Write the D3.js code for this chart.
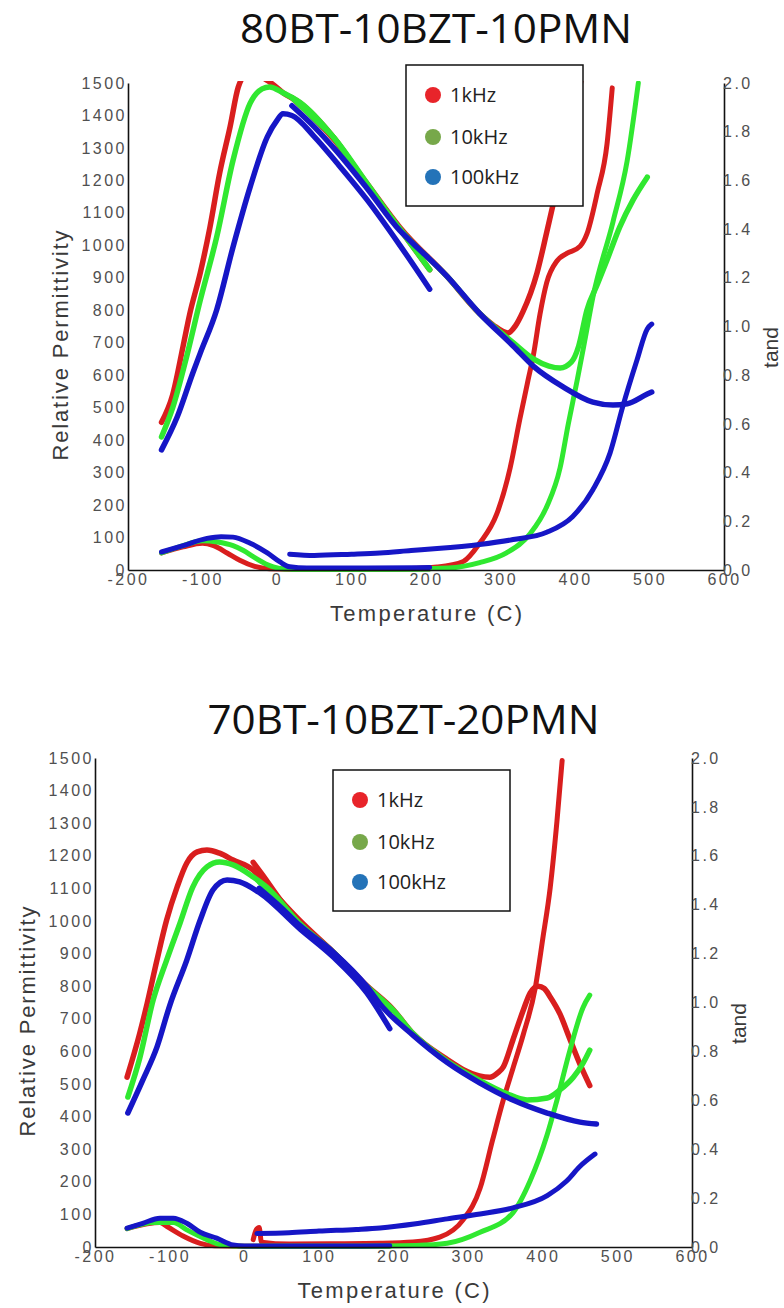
<!DOCTYPE html>
<html lang="en">
<head>
<meta charset="UTF-8">
<title>Permittivity and tand vs temperature</title>
<script src="https://d3js.org/d3.v7.min.js"></script>
<style>
  body { margin: 0; background: #fff; }
  svg { display: block; }
</style>
</head>
<body>
<script>
// ---- data: [temperature (C), value] ----
// 80BT-10BZT-10PMN, low-temperature run (a) and high-temperature run (b)
const top_eps_1k_a = [[-155,455],[-140,540],[-126,690],[-117,790],[-103,915],[-90,1056],[-77,1222],[-63,1365],[-52,1487],[-44,1520],[-25,1520],[-8,1500],[8,1470],[30,1440],[75,1335],[121,1185],[165,1050],[205,925]];
const top_eps_1k_b = [[20,1455],[50,1390],[75,1330],[121,1190],[165,1055],[228,905],[272,790],[290,755],[310,730],[320,752],[330,795],[349,915],[362,1040],[371,1130],[385,1260],[400,1420],[410,1530]];
const top_eps_10k_a = [[-155,410],[-140,500],[-121,660],[-103,831],[-81,1025],[-59,1262],[-36,1438],[-20,1482],[-10,1488],[8,1470],[31,1440],[75,1335],[121,1185],[165,1050],[205,925]];
const top_eps_10k_b = [[20,1455],[50,1390],[75,1335],[121,1190],[165,1050],[228,905],[272,790],[317,700],[344,650],[365,628],[380,622],[395,640],[405,690],[416,800],[430,880],[443,955],[460,1056],[478,1140],[497,1210]];
const top_eps_100k_a = [[-155,370],[-134,471],[-113,607],[-103,668],[-81,801],[-59,995],[-36,1180],[-13,1334],[0,1385],[8,1405],[20,1400],[50,1335],[80,1255],[121,1140],[165,1000],[205,865]];
const top_eps_100k_b = [[20,1430],[50,1365],[80,1290],[121,1175],[165,1045],[183,1005],[228,905],[272,790],[317,690],[344,628],[384,564],[424,517],[451,508],[470,512],[497,542],[503,548]];
const top_tan_1k_a = [[-155,0.07],[-126,0.095],[-100,0.11],[-85,0.1],[-67,0.07],[-50,0.04],[-30,0.015],[-10,0.005],[20,0.003],[100,0.003],[205,0.005]];
const top_tan_1k_b = [[20,0.005],[100,0.004],[180,0.006],[215,0.012],[250,0.035],[272,0.11],[295,0.23],[313,0.42],[326,0.62],[337,0.78],[344,0.88],[353,1.05],[362,1.18],[376,1.27],[389,1.30],[407,1.33],[416,1.38],[430,1.55],[443,1.75],[450,1.98]];
const top_tan_10k_a = [[-155,0.07],[-126,0.1],[-100,0.12],[-80,0.115],[-59,0.10],[-45,0.08],[-32,0.055],[-15,0.025],[-5,0.013],[10,0.004],[100,0.003],[205,0.004]];
const top_tan_10k_b = [[20,0.003],[150,0.003],[230,0.008],[272,0.03],[308,0.07],[340,0.15],[362,0.26],[380,0.42],[391,0.60],[403,0.78],[413,0.94],[424,1.12],[451,1.43],[470,1.68],[485,2.0]];
const top_tan_100k_a = [[-155,0.074],[-126,0.10],[-94,0.13],[-75,0.137],[-59,0.135],[-36,0.11],[-13,0.07],[4,0.033],[17,0.013],[40,0.008],[120,0.008],[205,0.01]];
const top_tan_100k_b = [[17,0.065],[50,0.06],[100,0.065],[138,0.07],[180,0.08],[215,0.088],[272,0.105],[317,0.125],[362,0.155],[397,0.22],[424,0.33],[447,0.48],[464,0.67],[483,0.86],[497,0.99],[503,1.01]];

// 70BT-10BZT-20PMN
const bot_eps_1k_a = [[-157,521],[-140,656],[-130,748],[-117,880],[-104,1003],[-90,1104],[-77,1178],[-63,1212],[-50,1218],[-33,1208],[-15,1187],[12,1156],[30,1110],[75,1000],[119,905],[164,800],[195,735]];
const bot_eps_1k_b = [[12,1180],[25,1140],[50,1060],[75,995],[119,905],[164,802],[199,730],[226,655],[272,575],[293,545],[315,525],[329,521],[340,535],[347,552],[360,635],[374,727],[383,779],[394,800],[402,793],[410,767],[423,715],[436,640],[450,560],[463,495]];
const bot_eps_10k_a = [[-156,460],[-140,580],[-122,758],[-104,880],[-86,994],[-69,1104],[-50,1166],[-33,1181],[-15,1172],[12,1135],[30,1104],[75,990],[119,900],[164,795],[195,720]];
const bot_eps_10k_b = [[20,1120],[50,1050],[75,990],[119,905],[164,800],[199,728],[226,655],[272,570],[316,510],[350,472],[379,451],[406,457],[423,482],[441,521],[454,564],[463,604]];
const bot_eps_100k_a = [[-156,411],[-136,512],[-117,613],[-100,740],[-77,880],[-59,1003],[-42,1095],[-23,1126],[-6,1120],[21,1086],[75,975],[119,890],[164,780],[195,670]];
const bot_eps_100k_b = [[20,1100],[50,1040],[75,985],[119,905],[164,800],[182,745],[226,650],[272,566],[316,503],[360,451],[406,411],[450,383],[472,377]];
const bot_tan_1k_a = [[-157,0.075],[-130,0.095],[-113,0.1],[-104,0.085],[-82,0.045],[-59,0.015],[-40,0.005],[0,0.003],[100,0.003],[195,0.004]];
const bot_tan_1k_b = [[12,0.03],[16,0.07],[20,0.08],[23,0.02],[60,0.012],[120,0.013],[182,0.015],[226,0.02],[262,0.04],[293,0.11],[316,0.24],[333,0.44],[347,0.60],[360,0.73],[374,0.87],[390,1.06],[400,1.26],[410,1.47],[419,1.74],[426,1.99]];
const bot_tan_10k_a = [[-157,0.075],[-120,0.1],[-95,0.1],[-77,0.07],[-50,0.03],[-30,0.008],[0,0.003],[100,0.003],[195,0.003]];
const bot_tan_10k_b = [[20,0.003],[150,0.003],[230,0.006],[272,0.015],[316,0.06],[360,0.14],[383,0.27],[406,0.46],[419,0.60],[436,0.80],[454,0.98],[463,1.03]];
const bot_tan_100k_a = [[-157,0.077],[-136,0.097],[-113,0.118],[-95,0.118],[-77,0.097],[-59,0.06],[-37,0.036],[-15,0.008],[0,0.004],[100,0.004],[195,0.005]];
const bot_tan_100k_b = [[17,0.055],[60,0.058],[100,0.065],[150,0.072],[182,0.078],[230,0.095],[272,0.115],[316,0.135],[360,0.16],[406,0.21],[432,0.27],[450,0.33],[470,0.38]];

const freqs = ['1kHz', '10kHz', '100kHz'];
const xTicks = [-200, -100, 0, 100, 200, 300, 400, 500, 600];
const epsTicks = d3.range(0, 1501, 100);
const tanTicks = [0, 0.2, 0.4, 0.6, 0.8, 1.0, 1.2, 1.4, 1.6, 1.8, 2.0];

const lineColors = ['#d91e1e', '#30e830', '#1616c6'];
const legendColors = ['#e8242a', '#77a84a', '#2473b8'];

const charts = [
  {
    title: '80BT-10BZT-10PMN', titleY: 43,
    x0: 128, x1: 724, yTop: 83, yBot: 570,
    legendX: 406, legendY: 65,
    eps: [[top_eps_1k_a, top_eps_1k_b], [top_eps_10k_a, top_eps_10k_b], [top_eps_100k_a, top_eps_100k_b]],
    tan: [[top_tan_1k_a, top_tan_1k_b], [top_tan_10k_a, top_tan_10k_b], [top_tan_100k_a, top_tan_100k_b]]
  },
  {
    title: '70BT-10BZT-20PMN', titleY: 734,
    x0: 95, x1: 692, yTop: 758, yBot: 1247,
    legendX: 333, legendY: 770,
    eps: [[bot_eps_1k_a, bot_eps_1k_b], [bot_eps_10k_a, bot_eps_10k_b], [bot_eps_100k_a, bot_eps_100k_b]],
    tan: [[bot_tan_1k_a, bot_tan_1k_b], [bot_tan_10k_a, bot_tan_10k_b], [bot_tan_100k_a, bot_tan_100k_b]]
  }
];

const svg = d3.select('body').append('svg').attr('width', 784).attr('height', 1308);
const tickFont = '"Liberation Sans", Arial, sans-serif';

charts.forEach((c, ci) => {
  const g = svg.append('g');
  const x = d3.scaleLinear().domain([-200, 600]).range([c.x0, c.x1]);
  const yL = d3.scaleLinear().domain([0, 1500]).range([c.yBot, c.yTop]);
  const yR = d3.scaleLinear().domain([0, 2]).range([c.yBot, c.yTop]);

  // title
  g.append('text')
    .attr('x', (c.x0 + c.x1) / 2 + 10).attr('y', c.titleY)
    .attr('text-anchor', 'middle')
    .attr('textLength', 392).attr('lengthAdjust', 'spacingAndGlyphs')
    .style('font-family', '"Open Sans", sans-serif').style('font-size', '40px')
    .style('fill', '#111')
    .text(c.title);

  // curves
  const clipId = 'clip' + ci;
  g.append('clipPath').attr('id', clipId).append('rect')
    .attr('x', c.x0).attr('y', c.yTop - 2)
    .attr('width', c.x1 - c.x0).attr('height', c.yBot - c.yTop + 4);
  const plot = g.append('g').attr('clip-path', `url(#${clipId})`);
  const lineL = d3.line().x(d => x(d[0])).y(d => yL(d[1])).curve(d3.curveMonotoneX);
  const lineR = d3.line().x(d => x(d[0])).y(d => yR(d[1])).curve(d3.curveMonotoneX);

  freqs.forEach((f, i) => {
    c.eps[i].forEach(arr => {
      plot.append('path').attr('d', lineL(arr))
        .attr('fill', 'none').attr('stroke', lineColors[i])
        .attr('stroke-width', 5.5).attr('stroke-linecap', 'round').attr('stroke-linejoin', 'round');
    });
    c.tan[i].forEach(arr => {
      plot.append('path').attr('d', lineR(arr))
        .attr('fill', 'none').attr('stroke', lineColors[i])
        .attr('stroke-width', 5).attr('stroke-linecap', 'round').attr('stroke-linejoin', 'round');
    });
  });

  // axes
  const styleAxis = sel => {
    sel.select('.domain').attr('stroke', '#111').attr('stroke-width', 1.6);
    sel.selectAll('text')
      .style('font-family', tickFont).style('font-size', '16px')
      .style('letter-spacing', '2.5px').style('fill', '#505050');
  };
  g.append('g').attr('transform', `translate(0,${c.yBot})`)
    .call(d3.axisBottom(x).tickValues(xTicks).tickSize(0).tickPadding(4).tickFormat(d => String(d)))
    .call(styleAxis);
  g.append('g').attr('transform', `translate(${c.x0},0)`)
    .call(d3.axisLeft(yL).tickValues(epsTicks).tickSize(0).tickPadding(1).tickFormat(d => String(d)))
    .call(styleAxis);
  g.append('g').attr('transform', `translate(${c.x1},0)`)
    .call(d3.axisRight(yR).tickValues(tanTicks).tickSize(0).tickPadding(-1).tickFormat(d3.format('.1f')))
    .call(styleAxis);

  // axis titles
  const titleStyle = s => s.style('font-family', tickFont).style('fill', '#3a3a3a');
  g.append('text')
    .attr('x', (c.x0 + c.x1) / 2).attr('y', c.yBot + 51)
    .attr('text-anchor', 'middle')
    .attr('textLength', 192).attr('lengthAdjust', 'spacing')
    .style('font-size', '22px').call(titleStyle)
    .text('Temperature (C)');
  const midY = (c.yTop + c.yBot) / 2;
  g.append('text')
    .attr('transform', `translate(${c.x0 - 60},${midY + 19}) rotate(-90)`)
    .attr('text-anchor', 'middle')
    .attr('textLength', 230).attr('lengthAdjust', 'spacing')
    .style('font-size', '22px').call(titleStyle)
    .text('Relative Permittivity');
  g.append('text')
    .attr('transform', `translate(${c.x1 + 54},${midY + 21}) rotate(-90)`)
    .attr('text-anchor', 'middle')
    .style('font-size', '21px').call(titleStyle)
    .text('tand');

  // legend
  const lg = g.append('g').attr('transform', `translate(${c.legendX},${c.legendY})`);
  lg.append('rect').attr('width', 177).attr('height', 141)
    .attr('fill', '#fff').attr('stroke', '#111').attr('stroke-width', 1.5);
  const rows = [30, 72, 112];
  freqs.forEach((f, i) => {
    lg.append('circle').attr('cx', 27).attr('cy', rows[i]).attr('r', 8)
      .attr('fill', legendColors[i]);
    lg.append('text').attr('x', 44).attr('y', rows[i] + 7)
      .style('font-family', '"Open Sans", sans-serif').style('font-size', '20px')
      .style('fill', '#222')
      .text(f);
  });
});
</script>
</body>
</html>
